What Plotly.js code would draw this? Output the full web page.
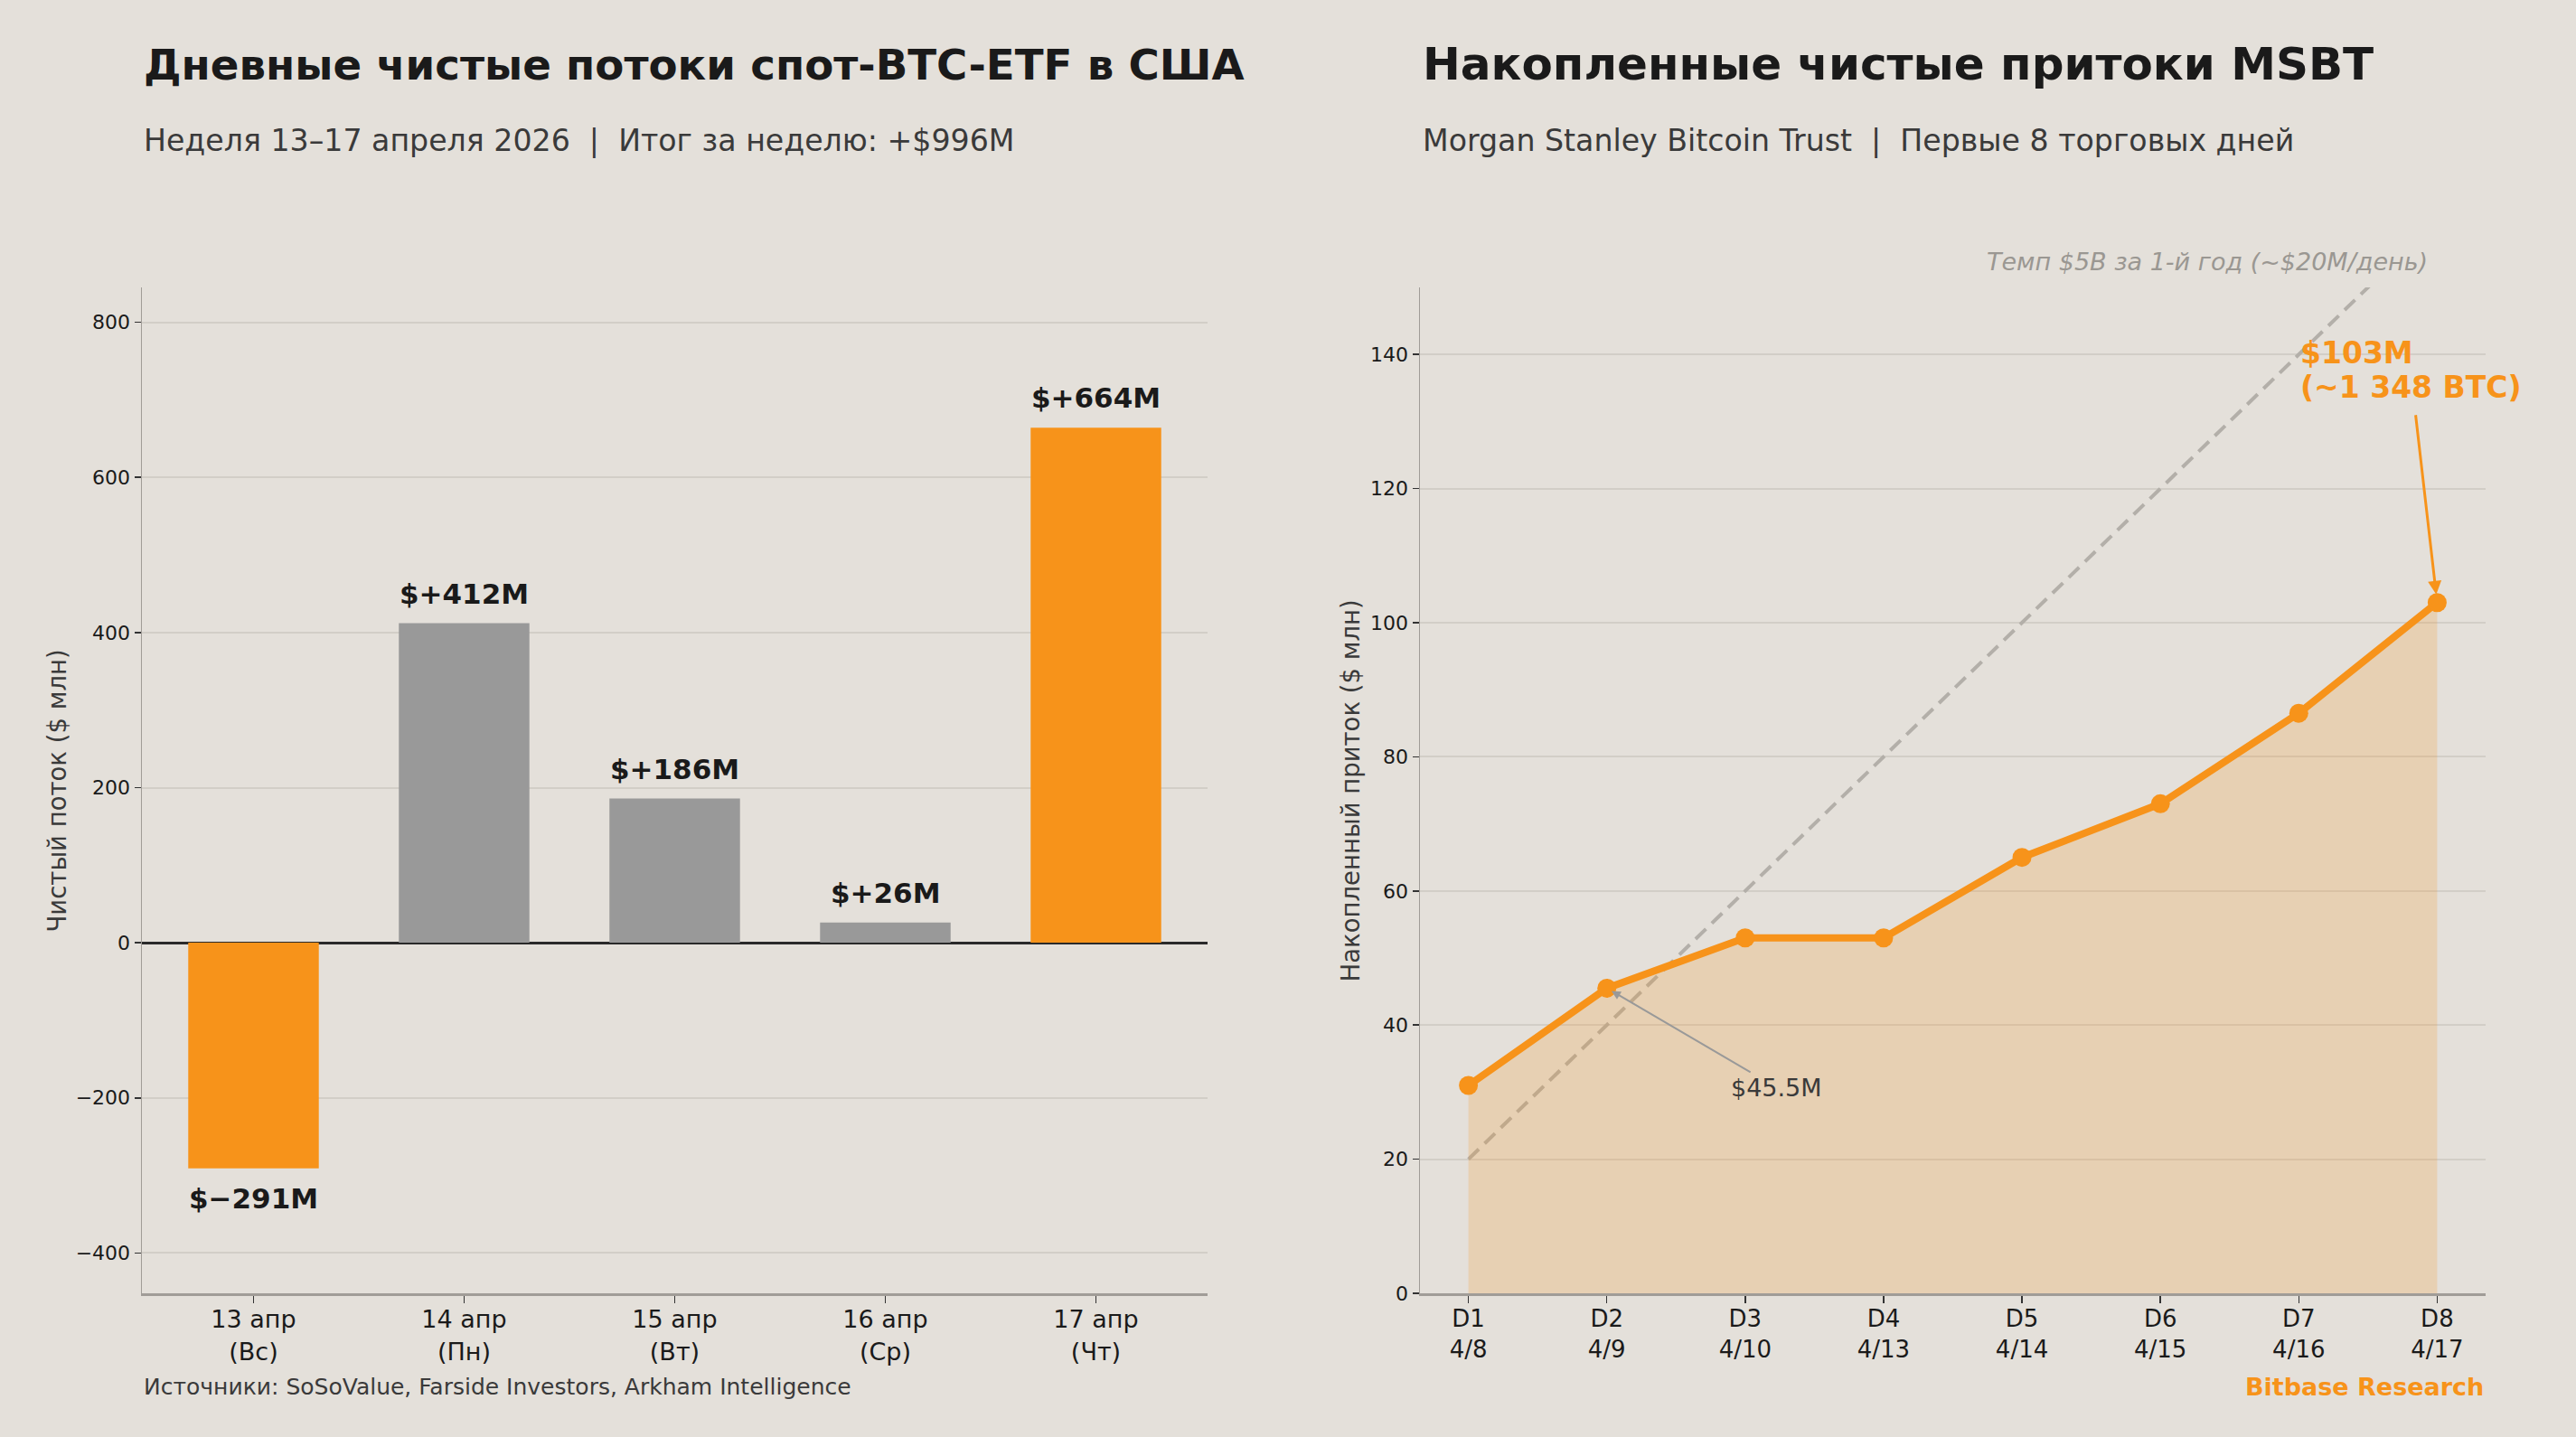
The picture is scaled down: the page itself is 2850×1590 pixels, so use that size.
<!DOCTYPE html>
<html>
<head>
<meta charset="utf-8">
<script src="https://cdn.plot.ly/plotly-3.0.1.min.js"></script>
<style>
  html, body { margin: 0; padding: 0; background: #E4E0DA; }
  #chart { width: 2850px; height: 1590px; }
</style>
</head>
<body>
<div id="chart"></div>
<script>
// ---- Data ----
const flowDays = ['13 апр<br>(Вс)', '14 апр<br>(Пн)', '15 апр<br>(Вт)', '16 апр<br>(Ср)', '17 апр<br>(Чт)'];
const flowValues = [-291, 412, 186, 26, 664];

const msbtDays = ['D1<br>4/8', 'D2<br>4/9', 'D3<br>4/10', 'D4<br>4/13', 'D5<br>4/14', 'D6<br>4/15', 'D7<br>4/16', 'D8<br>4/17'];
const msbtCumulative = [31, 45.5, 53, 53, 65, 73, 86.5, 103];
const paceLine = [20, 40, 60, 80, 100, 120, 140, 160];

const leftTitle = 'Дневные чистые потоки спот-BTC-ETF в США';
const leftSubtitle = 'Неделя 13–17 апреля 2026  |  Итог за неделю: +$996M';
const rightTitle = 'Накопленные чистые притоки MSBT';
const rightSubtitle = 'Morgan Stanley Bitcoin Trust  |  Первые 8 торговых дней';
const leftYTitle = 'Чистый поток ($ млн)';
const rightYTitle = 'Накопленный приток ($ млн)';
const paceLabel = 'Темп $5B за 1-й год (~$20M/день)';
const lastLabelLines = ['$103M', '(~1 348 BTC)'];
const d2Label = '$45.5M';
const sourceText = 'Источники: SoSoValue, Farside Investors, Arkham Intelligence';
const brandText = 'Bitbase Research';

// ---- Styles ----
const ORANGE = '#F7931A';
const GRAY_BAR = '#999999';
const BG = '#E4E0DA';
const GRID = '#D2CEC7';
const FONT = 'DejaVu Sans, sans-serif';

const maxV = Math.max(...flowValues), minV = Math.min(...flowValues);
const barColors = flowValues.map(v => (v === maxV || v === minV) ? ORANGE : GRAY_BAR);
const fmt = v => '$' + (v >= 0 ? '+' : '−') + Math.abs(v) + 'M';

const traces = [
  {
    type: 'bar', x: flowDays, y: flowValues, xaxis: 'x', yaxis: 'y',
    marker: { color: barColors, line: { width: 0 } }, width: 0.62,
    hoverinfo: 'x+y', showlegend: false
  },
  {
    type: 'scatter', mode: 'lines', x: msbtDays, y: paceLine, xaxis: 'x2', yaxis: 'y2',
    line: { color: '#B3AFA9', width: 4, dash: '16px,9px' },
    hoverinfo: 'skip', showlegend: false
  },
  {
    type: 'scatter', mode: 'lines+markers', x: msbtDays, y: msbtCumulative, xaxis: 'x2', yaxis: 'y2',
    fill: 'tozeroy', fillcolor: 'rgba(247,147,26,0.2)',
    line: { color: ORANGE, width: 8 },
    marker: { color: ORANGE, size: 21 },
    showlegend: false
  }
];

const annotations = [];
flowValues.forEach((v, i) => {
  annotations.push({
    x: flowDays[i], y: v, xref: 'x', yref: 'y', showarrow: false,
    text: fmt(v), font: { family: FONT, size: 31, color: '#1A1A1A', weight: 'bold' },
    yanchor: v >= 0 ? 'bottom' : 'top', yshift: v >= 0 ? 13 : -13
  });
});

const txt = (text, x, y, opts) => Object.assign({
  text, x, y, xref: 'paper', yref: 'paper', showarrow: false, xanchor: 'left', yanchor: 'middle'
}, opts);

const lastFont = { family: FONT, size: 33, color: ORANGE, weight: 'bold' };

annotations.push(
  txt(leftTitle, 0.0551, 0.9547, { font: { family: FONT, size: 46.7, color: '#1A1A1A', weight: 'bold' } }),
  txt(leftSubtitle, 0.0551, 0.9025, { font: { family: FONT, size: 33.2, color: '#3A3A3A' } }),
  txt(rightTitle, 0.5516, 0.9553, { font: { family: FONT, size: 50, color: '#1A1A1A', weight: 'bold' } }),
  txt(rightSubtitle, 0.5516, 0.9025, { font: { family: FONT, size: 33.2, color: '#3A3A3A' } }),
  txt(leftYTitle, 0.0221, 0.45, { xanchor: 'center', textangle: -90, font: { family: FONT, size: 27.5, color: '#3A3A3A' } }),
  txt(rightYTitle, 0.5242, 0.45, { xanchor: 'center', textangle: -90, font: { family: FONT, size: 27.5, color: '#3A3A3A' } }),
  txt(paceLabel, 0.9432, 0.8182, { xanchor: 'right', font: { family: FONT, size: 27, color: '#9A9792', style: 'italic' } }),
  txt(sourceText, 0.0551, 0.0352, { font: { family: FONT, size: 25, color: '#3A3A3A' } }),
  txt(brandText, 0.96491, 0.0352, { xanchor: 'right', font: { family: FONT, size: 27, color: ORANGE, weight: 'bold' } }),
  txt(lastLabelLines[0], 0.8923, 0.7541, { font: lastFont }),
  txt(lastLabelLines[1], 0.8923, 0.7302, { font: lastFont }),
  {
    x: msbtDays[7], y: msbtCumulative[7], xref: 'x2', yref: 'y2',
    text: '', showarrow: true,
    ax: -24, ay: -209, arrowhead: 2, arrowsize: 1, arrowwidth: 3, arrowcolor: ORANGE, standoff: 9
  },
  {
    x: msbtDays[1], y: msbtCumulative[1], xref: 'x2', yref: 'y2',
    text: d2Label, align: 'left', showarrow: true,
    ax: 188, ay: 110, arrowhead: 2, arrowsize: 1, arrowwidth: 2, arrowcolor: '#999999', standoff: 6,
    font: { family: FONT, size: 27, color: '#3A3A3A' }
  }
);

const baseX = {
  showgrid: false, zeroline: false, showline: true, linecolor: '#A09C97', linewidth: 3,
  ticks: 'outside', ticklen: 8, tickwidth: 1.5, tickcolor: '#333333', ticklabelstandoff: -5,
  tickfont: { family: FONT, size: 27, color: '#1A1A1A' }, automargin: false, fixedrange: true
};
const baseY = {
  showgrid: true, gridcolor: GRID, gridwidth: 2, showline: true, linecolor: '#A09C97', linewidth: 1.5,
  ticks: 'outside', ticklen: 7, tickwidth: 1.5, tickcolor: '#333333',
  tickfont: { family: FONT, size: 22, color: '#1A1A1A' }, automargin: false, fixedrange: true
};

const layout = {
  width: 2850, height: 1590,
  paper_bgcolor: BG, plot_bgcolor: BG,
  margin: { l: 0, r: 0, t: 0, b: 0 },
  font: { family: FONT },
  showlegend: false,
  xaxis: Object.assign({}, baseX, { domain: [0.05509, 0.46877], anchor: 'y', type: 'category', range: [-0.53, 4.53] }),
  yaxis: Object.assign({}, baseY, { domain: [0.1, 0.8], anchor: 'x', range: [-452, 845], dtick: 200,
    zeroline: true, zerolinecolor: '#2A2A2A', zerolinewidth: 3 }),
  xaxis2: Object.assign({}, baseX, { domain: [0.55123, 0.96491], anchor: 'y2', type: 'category', range: [-0.35, 7.35],
    tickfont: { family: FONT, size: 26, color: '#1A1A1A' } }),
  yaxis2: Object.assign({}, baseY, { domain: [0.1, 0.8], anchor: 'x2', range: [0, 150], dtick: 20, zeroline: false }),
  annotations
};

Plotly.newPlot('chart', traces, layout, { displayModeBar: false, staticPlot: true });
</script>
</body>
</html>
